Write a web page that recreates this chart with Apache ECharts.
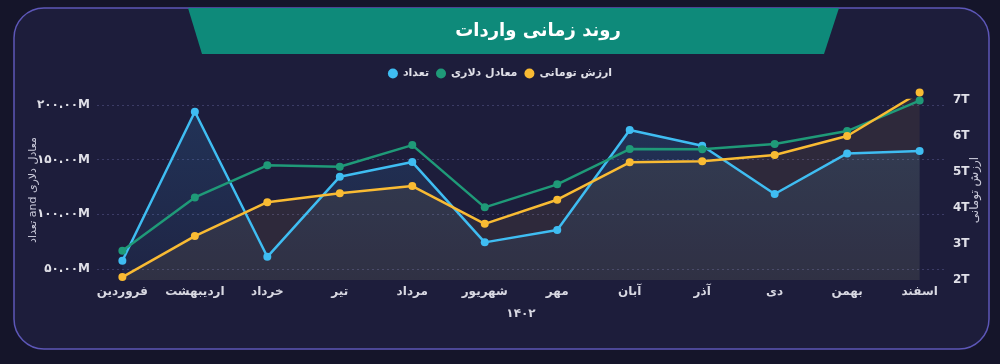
<!DOCTYPE html>
<html><head><meta charset="utf-8">
<script src="https://cdn.jsdelivr.net/npm/echarts@6/dist/echarts.min.js"></script>
<style>html,body{margin:0;padding:0;background:#15152a;}#c{width:1000px;height:364px;}</style>
</head><body><div id="c"></div>
<script>
const categories = ['فروردین','اردیبهشت','خرداد','تیر','مرداد','شهریور','مهر','آبان','آذر','دی','بهمن','اسفند'];
const countValues = [57.6,193.8,61.2,134.4,147.8,74.4,85.6,177.0,162.7,118.6,155.7,157.9];
const dollarValues = [66.7,115.5,144.8,143.5,163.3,106.4,127.4,159.7,159.4,164.3,176.1,204.0];
const tomanValues = [2.08,3.22,4.16,4.41,4.61,3.56,4.23,5.27,5.30,5.47,6.00,7.21];
const seriesNames = ['تعداد','معادل دلاری','ارزش تومانی'];
const titleText = 'روند زمانی واردات';
const yearLabel = '۱۴۰۲';
const leftAxisName = 'معادل دلاری and تعداد';
const rightAxisName = 'ارزش تومانی';

const FONT = 'DejaVu Sans';
const faDigits = '۰۱۲۳۴۵۶۷۸۹';
const toFa = s => String(s).replace(/[0-9]/g, d => faDigits[+d]);
const pairs = arr => arr.map((v, i) => [i, v]);
const rtl = s => '\u202B' + s + '\u202C';

const chart = echarts.init(document.getElementById('c'));
chart.setOption({
  backgroundColor: '#15152a',
  textStyle: { fontFamily: FONT },
  graphic: [
    { type: 'rect', z: -10, shape: { x: 14, y: 8, width: 975, height: 341, r: 30 },
      style: { fill: '#1d1d3b', stroke: '#5d57b8', lineWidth: 1.5 } },
    { type: 'polygon', z: -9, shape: { points: [[188, 8], [839, 8], [824, 54], [202, 54]] },
      style: { fill: '#0e8a7a' } },
    { type: 'text', z: 10, x: 538, y: 31,
      style: { text: titleText, fill: '#ffffff', font: 'bold 18px "' + FONT + '"', align: 'center', verticalAlign: 'middle' } }
  ],
  legend: {
    top: 63, left: 'center', icon: 'circle', itemWidth: 10, itemHeight: 10, itemGap: 7,
    data: seriesNames,
    textStyle: { color: '#e0e0e8', fontWeight: 'bold', fontSize: 11, fontFamily: FONT }
  },
  grid: { left: 97, right: 55, top: 100, bottom: 84, containLabel: false },
  xAxis: {
    type: 'value', min: -0.35, max: 11.35,
    axisLine: { show: false }, axisTick: { show: false }, splitLine: { show: false },
    axisLabel: {
      customValues: categories.map((c, i) => i),
      formatter: v => categories[Math.round(v)] || '',
      color: '#d8d8e2', fontWeight: 'bold', fontSize: 12, margin: 6, fontFamily: FONT
    },
    name: yearLabel, nameLocation: 'middle', nameGap: 28, nameMoveOverlap: false,
    nameTextStyle: { color: '#d8d8e2', fontWeight: 'bold', fontSize: 12, fontFamily: FONT }
  },
  yAxis: [
    {
      type: 'value', min: 40, max: 204.5, splitNumber: 3, position: 'left',
      axisLine: { show: false }, axisTick: { show: false },
      axisLabel: {
        showMinLabel: false, showMaxLabel: false, margin: 7,
        formatter: v => toFa(v.toFixed(2)) + 'M',
        color: '#e0e0e8', fontWeight: 'bold', fontSize: 12, fontFamily: FONT
      },
      splitLine: { show: true, showMinLine: false, showMaxLine: false,
        lineStyle: { color: '#3c3c66', type: [2, 3], width: 1 } },
      name: rtl(leftAxisName), nameLocation: 'middle', nameGap: 58, nameRotate: 90, nameMoveOverlap: false,
      nameTextStyle: { color: '#c8c8d8', fontSize: 11, fontFamily: FONT }
    },
    {
      type: 'value', min: 2, max: 7, interval: 1, position: 'right',
      axisLine: { show: false }, axisTick: { show: false }, splitLine: { show: false },
      axisLabel: { formatter: v => v + 'T', margin: 8,
        color: '#e0e0e8', fontWeight: 'bold', fontSize: 12, fontFamily: FONT },
      name: rightAxisName, nameLocation: 'middle', nameGap: 24, nameRotate: 90, nameMoveOverlap: false,
      nameTextStyle: { color: '#c8c8d8', fontSize: 12, fontFamily: FONT }
    }
  ],
  series: [
    {
      name: seriesNames[0], type: 'line', yAxisIndex: 0, data: pairs(countValues),
      color: '#3fbdf2', symbol: 'circle', symbolSize: 8, clip: false,
      lineStyle: { width: 2.5 },
      areaStyle: { color: new echarts.graphic.LinearGradient(0, 0, 0, 1, [
        { offset: 0, color: 'rgba(60,170,240,0.22)' }, { offset: 1, color: 'rgba(60,170,240,0.08)' }]) }
    },
    {
      name: seriesNames[1], type: 'line', yAxisIndex: 0, data: pairs(dollarValues),
      color: '#1f9a78', symbol: 'circle', symbolSize: 8, clip: false,
      lineStyle: { width: 2.5 }
    },
    {
      name: seriesNames[2], type: 'line', yAxisIndex: 1, data: pairs(tomanValues),
      color: '#f9bb33', symbol: 'circle', symbolSize: 8, clip: false,
      lineStyle: { width: 2.5 },
      areaStyle: { color: 'rgba(250,190,60,0.11)' }
    }
  ]
});
</script></body></html>
